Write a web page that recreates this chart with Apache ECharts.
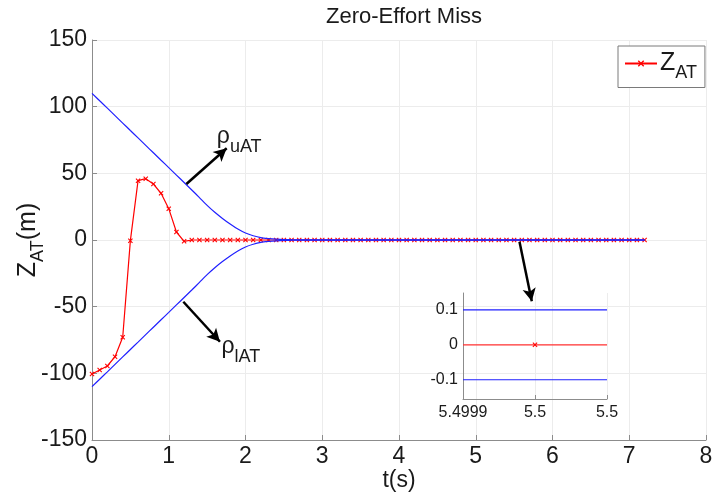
<!DOCTYPE html>
<html>
<head>
<meta charset="utf-8">
<title>Zero-Effort Miss</title>
<script src="https://cdn.jsdelivr.net/npm/echarts@6/dist/echarts.min.js"></script>
<style>
  html, body { margin: 0; padding: 0; background: #fff; }
  #chart { width: 712px; height: 495px; }
</style>
</head>
<body>
<div id="chart"></div>
<script>
// sample times of the Z_AT trace (s)
const time = [
  0, 0.1, 0.2, 0.3, 0.4, 0.5, 0.6, 0.7, 0.8, 0.9,
  1.0, 1.1, 1.2, 1.3, 1.4, 1.5, 1.6, 1.7, 1.8, 1.9,
  2.0, 2.1, 2.2, 2.3, 2.4, 2.5, 2.6, 2.7, 2.8, 2.9,
  3.0, 3.1, 3.2, 3.3, 3.4, 3.5, 3.6, 3.7, 3.8, 3.9,
  4.0, 4.1, 4.2, 4.3, 4.4, 4.5, 4.6, 4.7, 4.8, 4.9,
  5.0, 5.1, 5.2, 5.3, 5.4, 5.5, 5.6, 5.7, 5.8, 5.9,
  6.0, 6.1, 6.2, 6.3, 6.4, 6.5, 6.6, 6.7, 6.8, 6.9,
  7.0, 7.1, 7.2
]
// zero-effort miss Z_AT (m)
const zat = [
  -100.5, -97.5, -94.5, -87.5, -73, -0.5, 44.5, 46, 42, 35,
  23.5, 6, -1, 0, 0, 0, 0, 0, 0, 0,
  0, 0, 0, 0, 0, 0, 0, 0, 0, 0,
  0, 0, 0, 0, 0, 0, 0, 0, 0, 0,
  0, 0, 0, 0, 0, 0, 0, 0, 0, 0,
  0, 0, 0, 0, 0, 0, 0, 0, 0, 0,
  0, 0, 0, 0, 0, 0, 0, 0, 0, 0,
  0, 0, 0
]
// prescribed bounds rho_uAT / rho_lAT (m)
const boundTime = [
  0, 0.1, 0.2, 0.3, 0.4, 0.5, 0.6, 0.7, 0.8, 0.9,
  1.0, 1.1, 1.2, 1.3, 1.4, 1.5, 1.6, 1.7, 1.8, 1.9,
  2.0, 2.1, 2.2, 2.3, 2.4, 2.5, 2.6, 2.7, 7.2
]
const upperBound = [
  110, 104.4, 98.9, 93.3, 87.7, 82.1, 76.6, 71, 65.4, 59.8,
  54.3, 48.7, 43.1, 37.5, 31.8, 26, 20.8, 16.2, 12, 8.2,
  5.2, 3.2, 1.8, 1.1, 0.6, 0.3, 0.2, 0.12, 0.1
]
const lowerBound = [
  -110, -104.4, -98.9, -93.3, -87.7, -82.1, -76.6, -71, -65.4, -59.8,
  -54.3, -48.7, -43.1, -37.5, -31.8, -26, -20.8, -16.2, -12, -8.2,
  -5.2, -3.2, -1.8, -1.1, -0.6, -0.3, -0.2, -0.12, -0.1
]
// inset: offsets around t = 5.5 s in units of 1e-4 s
const insetOffset = [-1, 0, 1]
const insetTickLabels = ['5.4999', '5.5', '5.5']
const insetZat = [0, 0, 0]
const insetUpper = [0.1, 0.1, 0.1]
const insetLower = [-0.1, -0.1, -0.1]

// annotation arrows [tail, head] in data coords
const arrows = [
  [[1.23, 42], [1.755, 68.8]],
  [[1.19, -46.3], [1.667, -76.3]],
  [[5.57, -1.3], [5.73, -46]]
]

const FONT = 'Liberation Sans, Arial, Helvetica, sans-serif'
const GRID_COLOR = '#ececec'
const AXIS_COLOR = '#8c8c8c'
const TEXT_COLOR = '#1a1a1a'
// x shaped marker, filled
const CROSS = 'path://M0,1.5L1.5,0L5,3.5L8.5,0L10,1.5L6.5,5L10,8.5L8.5,10L5,6.5L1.5,10L0,8.5L3.5,5Z'

const pairs = (xs, ys) => xs.map((x, i) => [x, ys[i]])

const subRich = {
  z: { fontSize: 25, fontFamily: FONT, color: TEXT_COLOR, lineHeight: 28 },
  s: { fontSize: 18, fontFamily: FONT, color: TEXT_COLOR, verticalAlign: 'bottom', lineHeight: 20, padding: [0, 0, -5, 0] }
}

const rhoRich = {
  r: { fontSize: 23, fontFamily: FONT, color: TEXT_COLOR, lineHeight: 26 },
  s: { fontSize: 18, fontFamily: FONT, color: TEXT_COLOR, verticalAlign: 'bottom', lineHeight: 20, padding: [0, 0, -6, 0] }
}

const mainAxisCommon = {
  axisLine: { show: true, onZero: false, lineStyle: { color: AXIS_COLOR, width: 1 } },
  axisTick: { show: true, inside: true, length: 5, lineStyle: { color: AXIS_COLOR } },
  splitLine: { show: true, lineStyle: { color: GRID_COLOR, width: 1 } },
  axisLabel: { color: TEXT_COLOR, fontSize: 23, fontFamily: FONT }
}

const chart = echarts.init(document.getElementById('chart'), null, { renderer: 'canvas' })

const chartOption = {
  animation: false,
  backgroundColor: '#fff',
  title: {
    text: 'Zero-Effort Miss',
    left: 321,
    top: 1,
    textStyle: { fontSize: 22, fontWeight: 'normal', fontFamily: FONT, color: TEXT_COLOR }
  },
  legend: {
    data: ['Z_AT'],
    left: 618,
    top: 46,
    padding: [5, 8, 5, 6],
    itemWidth: 32,
    itemHeight: 8,
    itemGap: 4,
    borderColor: '#7a7a7a',
    borderWidth: 1,
    backgroundColor: '#fff',
    formatter: () => '{z|Z}{s|AT}',
    textStyle: { rich: subRich, padding: [0, 0, 0, -2] }
  },
  grid: [
    { left: 92, right: 6, top: 40, bottom: 55, outerBoundsMode: 'none' },
    { left: 463, top: 293, width: 144, height: 106, outerBoundsMode: 'none' }
  ],
  xAxis: [
    {
      ...mainAxisCommon,
      type: 'value',
      gridIndex: 0,
      min: 0,
      max: 8,
      interval: 1,
      name: 't(s)',
      nameLocation: 'middle',
      nameGap: 29,
      nameMoveOverlap: false,
      nameTextStyle: { color: TEXT_COLOR, fontSize: 23, fontFamily: FONT },
      axisLabel: { ...mainAxisCommon.axisLabel, margin: 5 }
    },
    {
      type: 'value',
      gridIndex: 1,
      min: -1,
      max: 1,
      interval: 1,
      axisLine: { show: true, onZero: false, lineStyle: { color: AXIS_COLOR } },
      axisTick: { show: true, inside: true, length: 4, lineStyle: { color: AXIS_COLOR } },
      splitLine: { show: true, lineStyle: { color: GRID_COLOR } },
      axisLabel: {
        color: TEXT_COLOR, fontSize: 16, fontFamily: FONT, margin: 6,
        formatter: (v) => insetTickLabels[Math.round(v) + 1]
      }
    }
  ],
  yAxis: [
    {
      ...mainAxisCommon,
      type: 'value',
      gridIndex: 0,
      min: -150,
      max: 150,
      interval: 50,
      name: '{z|Z}{s|AT}{z|(m)}',
      nameLocation: 'middle',
      nameRotate: 90,
      nameGap: 50,
      nameMoveOverlap: false,
      nameTextStyle: { rich: subRich },
      axisLabel: { ...mainAxisCommon.axisLabel, margin: 5 }
    },
    {
      type: 'value',
      gridIndex: 1,
      min: -0.155,
      max: 0.148,
      interval: 0.1,
      axisLine: { show: true, onZero: false, lineStyle: { color: AXIS_COLOR } },
      axisTick: { show: false },
      splitLine: { show: false },
      axisLabel: {
        color: TEXT_COLOR, fontSize: 16, fontFamily: FONT, margin: 5,
        customValues: [-0.1, 0, 0.1],
        formatter: (v) => String(Math.round(v * 10) / 10)
      }
    }
  ],
  series: [
    {
      name: 'Z_AT',
      type: 'line',
      xAxisIndex: 0,
      yAxisIndex: 0,
      data: pairs(time, zat),
      symbol: CROSS,
      symbolSize: 5,
      itemStyle: { color: '#ff0000' },
      lineStyle: { color: '#ff0000', width: 1.2 },
      z: 2
    },
    {
      name: 'rho_uAT',
      type: 'line',
      xAxisIndex: 0,
      yAxisIndex: 0,
      data: pairs(boundTime, upperBound),
      showSymbol: false,
      smooth: 0.2,
      lineStyle: { color: '#2020ff', width: 1.2 },
      z: 3,
      markLine: {
        silent: true,
        symbol: ['none', 'arrow'],
        symbolSize: [10, 13],
        lineStyle: { color: '#000', width: 2.5, type: 'solid' },
        label: { show: false },
        data: arrows.map(([a, b]) => [{ coord: a }, { coord: b }])
      },
      markPoint: {
        silent: true,
        symbol: 'circle',
        symbolSize: 1,
        itemStyle: { color: 'rgba(0,0,0,0)' },
        label: { show: true, position: 'right', distance: 0, rich: rhoRich },
        data: [
          { coord: [1.62, 77.5], label: { formatter: '{r|ρ}{s|uAT}' } },
          { coord: [1.68, -80], label: { formatter: '{r|ρ}{s|lAT}' } }
        ]
      }
    },
    {
      name: 'rho_lAT',
      type: 'line',
      xAxisIndex: 0,
      yAxisIndex: 0,
      data: pairs(boundTime, lowerBound),
      showSymbol: false,
      smooth: 0.2,
      lineStyle: { color: '#2020ff', width: 1.2 },
      z: 3
    },
    {
      name: 'inset Z_AT',
      type: 'line',
      xAxisIndex: 1,
      yAxisIndex: 1,
      data: insetOffset.map((x, i) => (i === 1 ? [x, insetZat[i]] : { value: [x, insetZat[i]], symbol: 'none' })),
      symbol: CROSS,
      symbolSize: 5,
      itemStyle: { color: '#ff0000' },
      lineStyle: { color: '#ff3030', width: 1.2 }
    },
    {
      name: 'inset upper',
      type: 'line',
      xAxisIndex: 1,
      yAxisIndex: 1,
      data: pairs(insetOffset, insetUpper),
      showSymbol: false,
      lineStyle: { color: '#2020ff', width: 1.2 }
    },
    {
      name: 'inset lower',
      type: 'line',
      xAxisIndex: 1,
      yAxisIndex: 1,
      data: pairs(insetOffset, insetLower),
      showSymbol: false,
      lineStyle: { color: '#2020ff', width: 1.2 }
    }
  ]
}

chart.setOption(chartOption)
</script>
</body>
</html>
